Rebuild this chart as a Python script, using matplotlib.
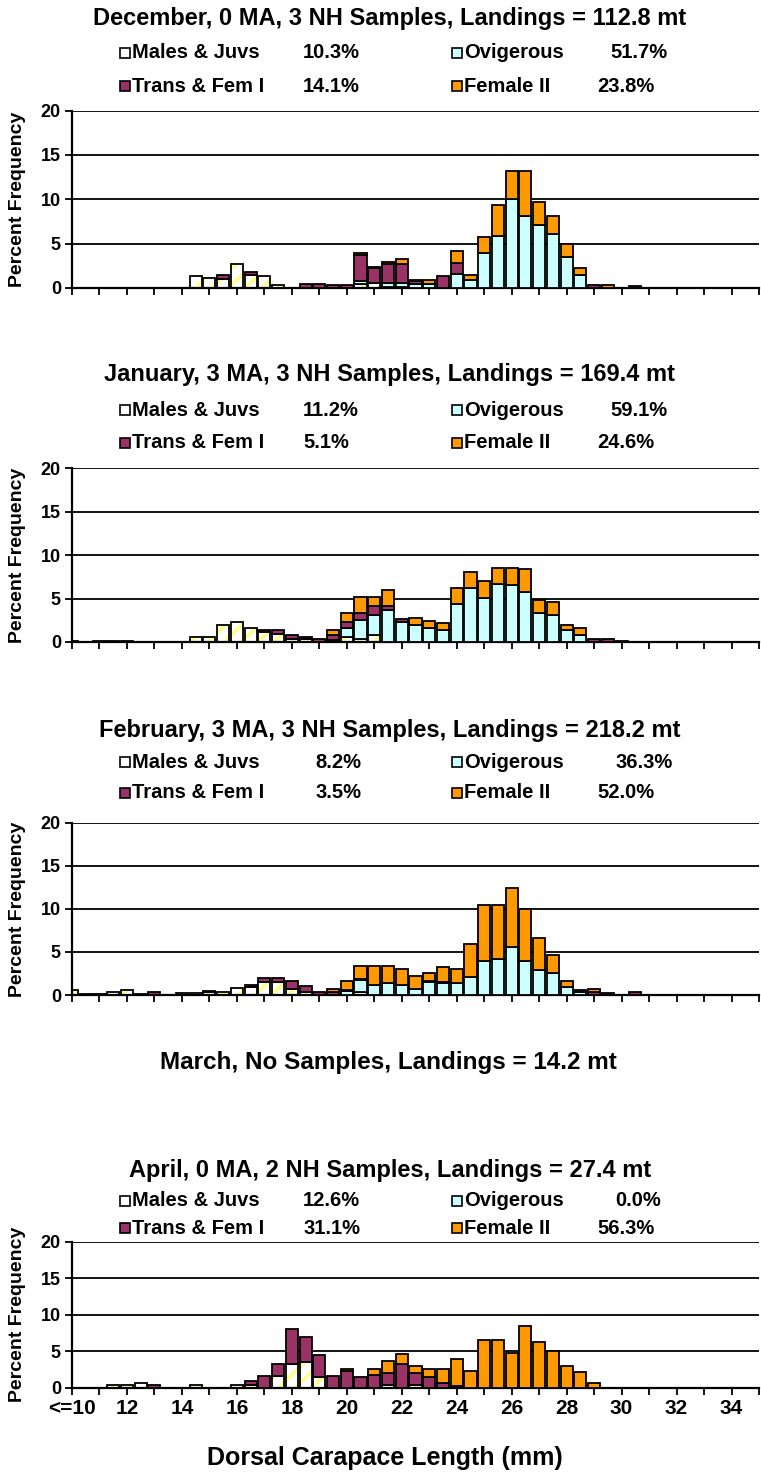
import numpy as np
import matplotlib
matplotlib.use("Agg")
import matplotlib.pyplot as plt
import matplotlib.transforms as mtransforms
from matplotlib.patches import Rectangle

plt.rcParams['font.family'] = ['Liberation Sans', 'DejaVu Sans']
plt.rcParams['font.weight'] = 'bold'
plt.rcParams['hatch.linewidth'] = 2.5

# size classes: "<=10" then 0.5 mm steps up to 35
n_bins = 51
tick_pos = list(range(0, 51, 4))
tick_txt = ['<=10', '12', '14', '16', '18', '20', '22', '24', '26', '28', '30', '32', '34']

groups = ['Males & Juvs', 'Ovigerous', 'Trans & Fem I', 'Female II']

# December
dec_len = [14.5, 15.0, 15.5, 16.0, 16.5, 17.0, 17.5, 18.5, 19.0, 19.5, 20.0,
           20.5, 21.0, 21.5, 22.0, 22.5, 23.0, 23.5, 24.0, 24.5, 25.0, 25.5,
           26.0, 26.5, 27.0, 27.5, 28.0, 28.5, 29.0, 29.5, 30.5]
dec_mj = [1.3, 1.1, 1.0, 2.7, 1.5, 1.3, 0.35, 0, 0, 0, 0,
          0.5, 0.6, 0.1, 0.1, 0, 0, 0, 0, 0, 0, 0,
          0, 0, 0, 0, 0, 0, 0, 0, 0]
dec_ovig = [0, 0, 0, 0, 0, 0, 0, 0, 0, 0, 0,
            0.3, 0, 0.5, 0.5, 0.5, 0.4, 0, 1.6, 0.9, 4.0, 5.9,
            10.0, 8.1, 7.1, 6.1, 3.45, 1.5, 0, 0, 0]
dec_trans = [0, 0, 0.5, 0, 0.35, 0, 0, 0.5, 0.5, 0.3, 0.3,
             2.9, 1.6, 2.1, 2.1, 0.3, 0, 1.3, 1.2, 0, 0, 0,
             0, 0, 0, 0, 0, 0, 0.3, 0, 0.2]
dec_fem2 = [0, 0, 0, 0, 0, 0, 0, 0, 0, 0, 0,
            0.2, 0.2, 0.2, 0.6, 0.1, 0.5, 0, 1.4, 0.6, 1.8, 3.4,
            3.2, 5.1, 2.6, 2.0, 1.55, 0.8, 0, 0.3, 0]
dec_pct = ['10.3%', '51.7%', '14.1%', '23.8%']

# January
jan_len = [10.0, 11.0, 11.5, 12.0, 14.5, 15.0, 15.5, 16.0, 16.5, 17.0, 17.5, 18.0,
           18.5, 19.0, 19.5, 20.0, 20.5, 21.0, 21.5, 22.0, 22.5, 23.0, 23.5, 24.0,
           24.5, 25.0, 25.5, 26.0, 26.5, 27.0, 27.5, 28.0, 28.5, 29.0, 29.5, 30.0]
jan_mj = [0.15, 0, 0, 0, 0.6, 0.6, 1.9, 2.3, 1.6, 1.1, 0.9, 0.35,
          0.3, 0, 0.25, 0.6, 0.4, 0.8, 0, 0, 0, 0, 0, 0,
          0, 0, 0, 0, 0, 0, 0, 0, 0, 0, 0, 0]
jan_ovig = [0, 0, 0, 0, 0, 0, 0, 0, 0, 0, 0, 0,
            0, 0, 0, 1.0, 2.1, 2.3, 3.7, 2.3, 1.9, 1.6, 1.35, 4.35,
            6.15, 5.1, 6.7, 6.5, 5.7, 3.35, 3.1, 1.35, 0.75, 0, 0, 0]
jan_trans = [0, 0.15, 0.15, 0.15, 0, 0, 0, 0, 0, 0.3, 0.5, 0.4,
             0.3, 0.4, 0.6, 0.75, 0.8, 1.0, 0.4, 0.3, 0, 0, 0, 0,
             0, 0, 0, 0, 0, 0, 0, 0, 0, 0.35, 0.35, 0.15]
jan_fem2 = [0, 0, 0, 0, 0, 0, 0, 0, 0, 0, 0, 0,
            0, 0, 0.55, 1.0, 1.9, 1.1, 1.85, 0, 0.9, 0.8, 0.85, 1.8,
            1.85, 1.9, 1.85, 2.0, 2.7, 1.45, 1.5, 0.65, 0.85, 0, 0, 0]
jan_pct = ['11.2%', '59.1%', '5.1%', '24.6%']

# February
feb_len = [10.0, 10.5, 11.0, 11.5, 12.0, 12.5, 13.0, 14.0, 14.5, 15.0,
           15.5, 16.0, 16.5, 17.0, 17.5, 18.0, 18.5, 19.0, 19.5, 20.0,
           20.5, 21.0, 21.5, 22.0, 22.5, 23.0, 23.5, 24.0, 24.5, 25.0,
           25.5, 26.0, 26.5, 27.0, 27.5, 28.0, 28.5, 29.0, 29.5, 30.5]
feb_mj = [0.6, 0.1, 0.1, 0.4, 0.6, 0.1, 0, 0.2, 0.2, 0.3,
          0.4, 0.85, 0.9, 1.5, 1.5, 0.7, 0.4, 0, 0, 0,
          0.3, 0, 0, 0, 0, 0, 0, 0, 0, 0,
          0, 0, 0, 0, 0, 0, 0, 0, 0, 0]
feb_ovig = [0, 0, 0, 0, 0, 0, 0, 0, 0, 0,
            0, 0, 0, 0, 0, 0, 0, 0, 0, 0.5,
            1.4, 1.2, 1.35, 1.2, 0.65, 1.5, 1.35, 1.35, 2.1, 3.9,
            4.15, 5.6, 3.9, 2.95, 2.6, 0.95, 0.3, 0, 0, 0]
feb_trans = [0, 0, 0, 0, 0, 0, 0.3, 0, 0, 0.15,
             0, 0, 0.3, 0.5, 0.5, 0.9, 0.6, 0.4, 0.3, 0.1,
             0.1, 0, 0, 0, 0, 0.1, 0.2, 0, 0, 0,
             0, 0, 0, 0, 0, 0, 0.3, 0.3, 0.2, 0.4]
feb_fem2 = [0, 0, 0, 0, 0, 0, 0, 0, 0, 0,
            0, 0, 0, 0, 0, 0, 0, 0, 0.35, 1.0,
            1.6, 2.2, 2.0, 1.8, 1.55, 1.0, 1.65, 1.65, 3.85, 6.5,
            6.25, 6.8, 6.1, 3.65, 2.1, 0.65, 0, 0.35, 0, 0]
feb_pct = ['8.2%', '36.3%', '3.5%', '52.0%']

# April
apr_len = [11.5, 12.0, 12.5, 13.0, 14.5, 16.0, 16.5, 17.0, 17.5, 18.0, 18.5,
           19.0, 19.5, 20.0, 20.5, 21.0, 21.5, 22.0, 22.5, 23.0, 23.5,
           24.0, 24.5, 25.0, 25.5, 26.0, 26.5, 27.0, 27.5, 28.0, 28.5, 29.0]
apr_mj = [0.4, 0.4, 0.7, 0, 0.4, 0.4, 0.35, 0, 1.6, 3.25, 3.5,
          1.4, 0, 0, 0, 0, 0.35, 0, 0.35, 0, 0,
          0, 0, 0, 0, 0, 0, 0, 0, 0, 0, 0]
apr_ovig = [0, 0, 0, 0, 0, 0, 0, 0, 0, 0, 0,
            0, 0, 0, 0, 0, 0, 0, 0, 0, 0,
            0, 0, 0, 0, 0, 0, 0, 0, 0, 0, 0]
apr_trans = [0, 0, 0, 0.4, 0, 0, 0.55, 1.6, 1.7, 4.85, 3.45,
             3.1, 1.6, 2.3, 1.4, 1.75, 1.7, 3.3, 1.7, 1.45, 0.7,
             0.3, 0, 0, 0, 0, 0, 0, 0, 0, 0, 0]
apr_fem2 = [0, 0, 0, 0, 0, 0, 0, 0, 0, 0, 0,
            0, 0, 0.25, 0, 0.85, 1.55, 1.25, 0.95, 1.1, 1.85,
            3.7, 2.35, 6.5, 6.5, 4.75, 8.4, 6.25, 5.0, 3.0, 2.1, 0.6]
apr_pct = ['12.6%', '0.0%', '31.1%', '56.3%']

titles = ['December, 0 MA, 3 NH Samples, Landings = 112.8 mt',
          'January, 3 MA, 3 NH Samples, Landings = 169.4 mt',
          'February, 3 MA, 3 NH Samples, Landings = 218.2 mt',
          'April, 0 MA, 2 NH Samples, Landings = 27.4 mt']
march_note = 'March, No Samples, Landings = 14.2 mt'

W, H = 761, 1473
fig = plt.figure(figsize=(W / 100, H / 100), dpi=100)


def fx(px):
    return px / W


def fy(py):
    return 1 - py / H


fills = ['white', '#CCFFFF', '#993366', '#FF9900']


def draw_bars(ax, lens, series):
    pos = (np.array(lens) - 10.0) / 0.5
    base = np.zeros(len(pos))
    for k, vals in enumerate(series):
        v = np.array(vals, dtype=float)
        m = v > 0
        if k == 0:
            ax.bar(pos[m], v[m], bottom=base[m], width=0.88, color='white',
                   edgecolor='#FFFF88', hatch='//', linewidth=0, zorder=2)
            ax.bar(pos[m], v[m], bottom=base[m], width=0.88, fill=False,
                   edgecolor='black', linewidth=1.3, zorder=3)
        else:
            ax.bar(pos[m], v[m], bottom=base[m], width=0.88, color=fills[k],
                   edgecolor='black', linewidth=1.3, zorder=3)
        base += v


def legend_block(title, pcts, title_y, row1_y, row2_y, pct_x=(303, 610, 303, 597)):
    fig.text(fx(390), fy(title_y), title, ha='center', va='center', fontsize=17)
    spots = [(row1_y, 120), (row1_y, 452), (row2_y, 120), (row2_y, 452)]
    for g, (y, sq_x) in enumerate(spots):
        fig.patches.append(Rectangle((fx(sq_x), fy(y + 5)), 10 / W, 10 / H,
                                     transform=fig.transFigure, facecolor=fills[g],
                                     edgecolor='black', linewidth=1.2))
        fig.text(fx(sq_x + 12), fy(y), groups[g], ha='left', va='center', fontsize=14.5)
        fig.text(fx(pct_x[g]), fy(y), pcts[g], ha='left', va='center', fontsize=14.5)


panels = [
    (dec_len, [dec_mj, dec_ovig, dec_trans, dec_fem2], dec_pct, 110.5, 288.0),
    (jan_len, [jan_mj, jan_ovig, jan_trans, jan_fem2], jan_pct, 468.0, 642.0),
    (feb_len, [feb_mj, feb_ovig, feb_trans, feb_fem2], feb_pct, 822.7, 995.0),
    (apr_len, [apr_mj, apr_ovig, apr_trans, apr_fem2], apr_pct, 1241.7, 1387.7),
]
heads = [(18, 53, 86), (375, 410, 443), (730, 762, 793), (1170, 1201, 1228)]
pct_places = [(303, 610, 303, 597), (303, 610, 303, 597),
              (315, 615, 315, 597), (303, 615, 303, 597)]

shift = mtransforms.ScaledTranslation(-5 / 100, 0, fig.dpi_scale_trans)
shift_first = mtransforms.ScaledTranslation(-12 / 100, 0, fig.dpi_scale_trans)

for i, (lens, series, pcts, top, bot) in enumerate(panels):
    ax = fig.add_axes([fx(72), fy(bot), fx(759) - fx(72), (bot - top) / H])
    draw_bars(ax, lens, series)
    ax.set_xlim(0, n_bins - 1)
    ax.set_ylim(0, 20)
    ax.set_yticks([0, 5, 10, 15, 20])
    ax.set_yticklabels(['0', '5', '10', '15', '20'], fontsize=13)
    ax.set_axisbelow(True)
    ax.yaxis.grid(True, color='black', linewidth=1.3)
    for s in ['top', 'right']:
        ax.spines[s].set_visible(False)
    for s in ['left', 'bottom']:
        ax.spines[s].set_linewidth(1.6)
    ax.set_xticks(range(0, n_bins, 2))
    if i == 3:
        labs = ['' for _ in range(0, n_bins, 2)]
        for p, t in zip(tick_pos, tick_txt):
            labs[p // 2] = t
        ax.set_xticklabels(labs, fontsize=15)
        for j, lab in enumerate(ax.get_xticklabels()):
            lab.set_transform(lab.get_transform() + (shift_first if j == 0 else shift))
    else:
        ax.set_xticklabels([])
    ax.tick_params(axis='both', direction='out', length=5, width=1.3, pad=3)
    fig.text(fx(18), fy((top + bot) / 2), 'Percent Frequency', rotation=90,
             ha='center', va='center', fontsize=14)
    legend_block(titles[i], pcts, *heads[i], pct_x=pct_places[i])

fig.text(fx(388), fy(1062), march_note, ha='center', va='center', fontsize=17.5)
fig.text(fx(385), fy(1458), 'Dorsal Carapace Length (mm)', ha='center', va='center',
         fontsize=18)

fig.savefig('out.png', dpi=100)
